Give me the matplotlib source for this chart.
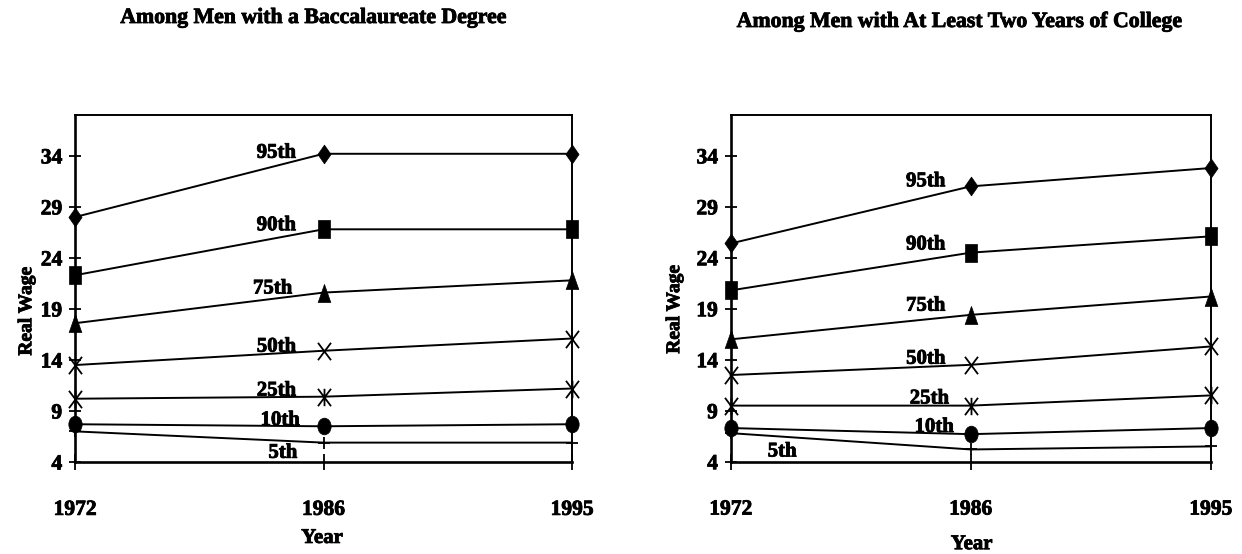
import matplotlib
matplotlib.use("Agg")
import matplotlib.pyplot as plt
import matplotlib.patheffects as pe
from matplotlib.markers import MarkerStyle
from matplotlib.path import Path

# ---------------- data ----------------
years = ["1972", "1986", "1995"]
percentiles = ["95th", "90th", "75th", "50th", "25th", "10th", "5th"]

# Among Men with a Baccalaureate Degree
ba_95 = [28.0, 34.2, 34.2]
ba_90 = [22.3, 26.8, 26.8]
ba_75 = [17.6, 20.6, 21.8]
ba_50 = [13.5, 14.9, 16.1]
ba_25 = [10.2, 10.4, 11.2]
ba_10 = [7.7, 7.5, 7.7]
ba_05 = [7.0, 5.9, 5.9]

# Among Men with At Least Two Years of College
tc_95 = [25.4, 31.0, 32.8]
tc_90 = [20.8, 24.5, 26.1]
tc_75 = [16.0, 18.4, 20.2]
tc_50 = [12.5, 13.5, 15.3]
tc_25 = [9.5, 9.5, 10.5]
tc_10 = [7.3, 6.7, 7.3]
tc_05 = [6.8, 5.2, 5.5]

y_ticks = [4, 9, 14, 19, 24, 29, 34]

titles = ["Among Men with a Baccalaureate Degree",
          "Among Men with At Least Two Years of College"]

# label anchor positions (x index, y value) -- placement only
ba_label_x = [0.89, 0.89, 0.875, 0.89, 0.89, 0.905, 0.895]
ba_label_y = [34.3, 27.2, 21.0, 15.3, 11.0, 8.1, 4.9]
tc_label_x = [0.895, 0.895, 0.895, 0.895, 0.91, 0.93, 0.275]
tc_label_y = [31.5, 25.3, 19.3, 14.1, 10.2, 7.4, 5.0]

# ---------------- markers ----------------
def mk(verts, codes=None):
    return MarkerStyle(Path(verts, codes))

diamond = mk([(0, 1), (0.7, 0), (0, -1), (-0.7, 0), (0, 1)],
             [Path.MOVETO, Path.LINETO, Path.LINETO, Path.LINETO, Path.CLOSEPOLY])
square = mk([(-0.7, -1), (0.7, -1), (0.7, 1), (-0.7, 1), (-0.7, -1)],
            [Path.MOVETO, Path.LINETO, Path.LINETO, Path.LINETO, Path.CLOSEPOLY])
triangle = mk([(0, 1), (0.7, -1), (-0.7, -1), (0, 1)],
              [Path.MOVETO, Path.LINETO, Path.LINETO, Path.CLOSEPOLY])
xmark = mk([(-0.75, -1), (0.75, 1), (-0.75, 1), (0.75, -1)],
           [Path.MOVETO, Path.LINETO, Path.MOVETO, Path.LINETO])
star = mk([(-0.75, -1), (0.75, 1), (-0.75, 1), (0.75, -1), (0, -1), (0, 1)],
          [Path.MOVETO, Path.LINETO, Path.MOVETO, Path.LINETO, Path.MOVETO, Path.LINETO])
circ = Path.unit_circle()
ellipse = MarkerStyle(Path(circ.vertices * [0.8, 1.0], circ.codes))

marker_specs = [
    dict(marker=diamond, ms=13.5, filled=True),
    dict(marker=square, ms=13, filled=True),
    dict(marker=triangle, ms=13, filled=True),
    dict(marker=xmark, ms=12.5, filled=False),
    dict(marker=star, ms=12.5, filled=False),
    dict(marker=ellipse, ms=12, filled=True),
    dict(marker="+", ms=8, filled=False),
]

FONT = "Liberation Serif"
plt.rcParams["font.family"] = [FONT, "DejaVu Serif"]
plt.rcParams["font.weight"] = "bold"
heavy = [pe.withStroke(linewidth=0.6, foreground="black")]

fig = plt.figure(figsize=(12.42, 5.54), dpi=100)
W, H = 1242, 554

panels = [
    dict(box=(75, 115, 572, 462),
         series=[ba_95, ba_90, ba_75, ba_50, ba_25, ba_10, ba_05],
         lx=ba_label_x, ly=ba_label_y,
         title_xy=(314, 18), ylab=(-0.08, 0.435), xlab=(0.497, -0.19)),
    dict(box=(730.7, 115, 1210.7, 461.7),
         series=[tc_95, tc_90, tc_75, tc_50, tc_25, tc_10, tc_05],
         lx=tc_label_x, ly=tc_label_y,
         title_xy=(960, 22), ylab=(-0.099, 0.44), xlab=(0.502, -0.209)),
]

xs = list(range(len(years)))
for p, title in zip(panels, titles):
    x0, y0, x1, y1 = p["box"]
    ax = fig.add_axes([x0 / W, 1 - y1 / H, (x1 - x0) / W, (y1 - y0) / H])
    for vals, spec, name, tx, ty in zip(p["series"], marker_specs, percentiles,
                                        p["lx"], p["ly"]):
        kw = dict(color="black", lw=1.4, marker=spec["marker"], ms=spec["ms"],
                  mec="black", clip_on=False, zorder=3)
        if spec["filled"]:
            kw.update(mfc="black", mew=0.5)
        else:
            kw.update(mfc="none", mew=1.3)
        ax.plot(xs, vals, **kw)
        ax.text(tx, ty, name, ha="right", va="center", fontsize=15,
                fontweight="bold", family=FONT, zorder=4, path_effects=heavy)
    ax.set_xlim(0, len(years) - 1)
    ax.set_ylim(4, 38)
    ax.set_yticks(y_ticks)
    ax.set_yticklabels([str(t) for t in y_ticks])
    ax.set_xticks(xs)
    ax.set_xticklabels(years)
    for lab in ax.get_xticklabels() + ax.get_yticklabels():
        lab.set_fontweight("bold")
        lab.set_family(FONT)
        lab.set_fontsize(15.5)
        lab.set_path_effects(heavy)
    ax.tick_params(axis="y", direction="inout", length=8.6, width=1.3, pad=5.0)
    ax.tick_params(axis="x", direction="inout", length=11.5, width=1.3, pad=21.5)
    ax.spines["left"].set_linewidth(1.9)
    ax.spines["bottom"].set_linewidth(1.9)
    ax.spines["top"].set_linewidth(1.4)
    ax.spines["right"].set_linewidth(1.4)
    ax.set_ylabel("Real Wage", fontsize=14, fontweight="bold", family=FONT,
                  path_effects=heavy)
    ax.yaxis.set_label_coords(*p["ylab"])
    ax.set_xlabel("Year", fontsize=15, fontweight="bold", family=FONT,
                  path_effects=heavy)
    ax.xaxis.set_label_coords(*p["xlab"])
    fig.text(p["title_xy"][0] / W, 1 - p["title_xy"][1] / H, title,
             ha="center", va="center", fontsize=15.7, fontweight="bold",
             family=FONT, path_effects=heavy)

fig.savefig("out.png", dpi=100)
